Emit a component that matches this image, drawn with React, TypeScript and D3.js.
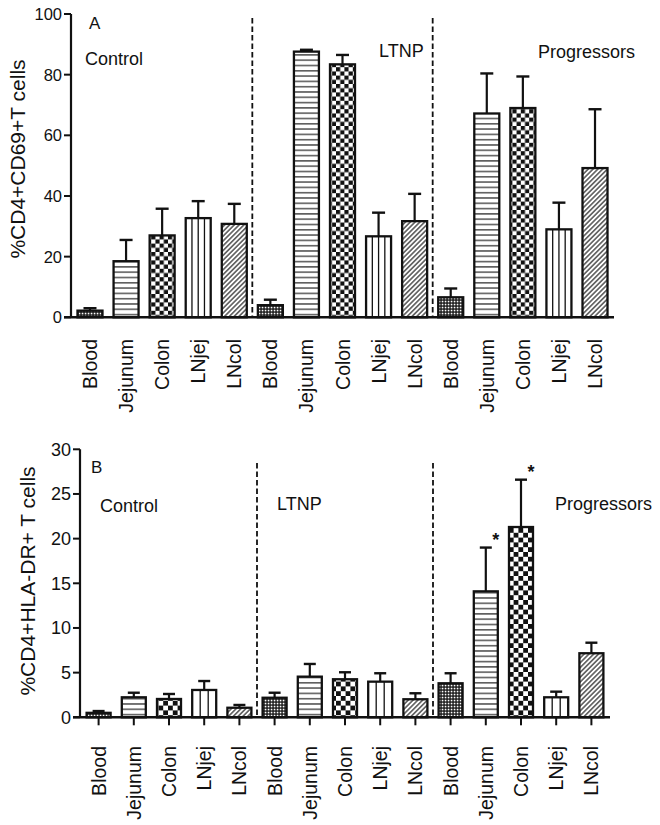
import React from "react";
import * as d3 from "d3";

// ---------- data ----------
const tissues = ["Blood", "Jejunum", "Colon", "LNjej", "LNcol"];
const groups = ["Control", "LTNP", "Progressors"];
// Panel A: %CD4+CD69+ T cells (mean, mean+SEM)
const cd69Mean = [2.2, 18.5, 27.0, 32.7, 30.8, 4.0, 87.6, 83.4, 26.7, 31.7, 6.6, 67.2, 69.0, 29.0, 49.2];
const cd69Upper = [3.0, 25.5, 35.8, 38.3, 37.4, 5.8, 88.2, 86.5, 34.5, 40.7, 9.5, 80.4, 79.4, 37.8, 68.6];
const cd69Ticks = [0, 20, 40, 60, 80, 100];
// Panel B: %CD4+HLA-DR+ T cells (mean, mean+SEM)
const hlaMean = [0.5, 2.24, 2.05, 3.06, 1.07, 2.19, 4.55, 4.26, 3.99, 2.02, 3.81, 14.1, 21.3, 2.24, 7.17];
const hlaUpper = [0.7, 2.75, 2.61, 4.06, 1.38, 2.75, 5.97, 5.04, 4.93, 2.69, 4.93, 19.0, 26.6, 2.87, 8.35];
const hlaTicks = [0, 5, 10, 15, 20, 25, 30];
const hlaSignificant = [false, false, false, false, false, false, false, false, false, false, false, true, true, false, false];

const FONT = "'Liberation Sans', Arial, Helvetica, sans-serif";

type PanelProps = {
  id: string;
  letter: string;
  mean: number[];
  upper: number[];
  ticks: number[];
  yMax: number;
  title: string;
  sig?: boolean[];
  axisX: number;
  axisEnd: number;
  y0: number;
  yTop: number;
  padInner: number;
  padOuter: number;
  capHalf: number;
  xTicks: boolean;
  labelTop: number;
  titleX: number;
  titleY: number;
  letterPos: [number, number];
  groupPos: [number, number][];
  dashTop: number;
  tickFont: number;
  vStripes: number;
  checkSize: number;
};

function Panel(p: PanelProps) {
  const n = p.mean.length;
  const idx = d3.range(n);
  const x = d3
    .scaleBand<number>()
    .domain(idx)
    .range([p.axisX, p.axisEnd])
    .paddingInner(p.padInner)
    .paddingOuter(p.padOuter);
  const y = d3.scaleLinear().domain([0, p.yMax]).range([p.y0, p.yTop]);
  const bw = x.bandwidth();
  const tickLen = 7;
  const cat = (i: number) => tissues[i % tissues.length];
  const fillFor = (i: number) => {
    const t = i % 5;
    return [`url(#${p.id}-blood)`, `url(#${p.id}-hstripe)`, `url(#${p.id}-check)`, "white", `url(#${p.id}-diag)`][t];
  };
  const dividers = [1, 2].map((g) => (x(g * 5 - 1)! + bw + x(g * 5)!) / 2);
  const cs = p.checkSize;
  return (
    <g>
      <defs>
        <pattern id={`${p.id}-blood`} patternUnits="userSpaceOnUse" width={3} height={3}>
          <rect width={3} height={3} fill="#111" />
          <rect x={0.7} y={0.7} width={1.7} height={1.7} fill="#fff" />
        </pattern>
        <pattern id={`${p.id}-hstripe`} patternUnits="userSpaceOnUse" width={10} height={5.3} y={p.y0}>
          <rect width={10} height={5.3} fill="#fff" />
          <line x1={0} x2={10} y1={2.6} y2={2.6} stroke="#111" strokeWidth={1.1} />
        </pattern>
        <pattern id={`${p.id}-check`} patternUnits="userSpaceOnUse" width={cs * 2} height={cs * 2}>
          <rect width={cs * 2} height={cs * 2} fill="#fff" />
          <rect width={cs} height={cs} fill="#111" />
          <rect x={cs} y={cs} width={cs} height={cs} fill="#111" />
        </pattern>
        <pattern
          id={`${p.id}-diag`}
          patternUnits="userSpaceOnUse"
          width={3.4}
          height={10}
          patternTransform="rotate(45)"
        >
          <rect width={3.4} height={10} fill="#fff" />
          <line x1={1.7} x2={1.7} y1={0} y2={10} stroke="#111" strokeWidth={1.1} />
        </pattern>
      </defs>

      {/* bars */}
      {idx.map((i) => {
        const bx = x(i)!;
        const top = y(p.mean[i]);
        const h = p.y0 - top;
        const cx = bx + bw / 2;
        const t = i % 5;
        return (
          <g key={i}>
            <line x1={cx} x2={cx} y1={top} y2={y(p.upper[i])} stroke="#111" strokeWidth={2.2} />
            <line
              x1={cx - p.capHalf}
              x2={cx + p.capHalf}
              y1={y(p.upper[i])}
              y2={y(p.upper[i])}
              stroke="#111"
              strokeWidth={2.4}
            />
            <rect x={bx} y={top} width={bw} height={h} fill={fillFor(i)} />
            {t === 3 &&
              d3.range(1, p.vStripes).map((k) => (
                <line
                  key={k}
                  x1={bx + (bw * k) / p.vStripes}
                  x2={bx + (bw * k) / p.vStripes}
                  y1={top}
                  y2={p.y0}
                  stroke="#111"
                  strokeWidth={1.3}
                />
              ))}
            <rect x={bx} y={top} width={bw} height={h} fill="none" stroke="#111" strokeWidth={2.3} />
            {p.sig && p.sig[i] && (
              <text
                x={cx + 10}
                y={y(p.upper[i]) - 2}
                fontFamily={FONT}
                fontSize={18}
                fontWeight="bold"
                textAnchor="middle"
                fill="#111"
              >
                *
              </text>
            )}
          </g>
        );
      })}

      {/* group dividers */}
      {dividers.map((dx, k) => (
        <line
          key={k}
          x1={dx}
          x2={dx}
          y1={p.dashTop}
          y2={p.y0}
          stroke="#111"
          strokeWidth={1.8}
          strokeDasharray="5.5,3"
        />
      ))}

      {/* y axis */}
      <line x1={p.axisX} x2={p.axisX} y1={y(p.yMax)} y2={p.y0} stroke="#111" strokeWidth={2.2} />
      {p.ticks.map((t) => (
        <g key={t}>
          <line x1={p.axisX - tickLen} x2={p.axisX} y1={y(t)} y2={y(t)} stroke="#111" strokeWidth={2} />
          <text
            x={p.axisX - tickLen - 2}
            y={y(t)}
            dy="0.36em"
            textAnchor="end"
            fontFamily={FONT}
            fontSize={p.tickFont}
            fill="#111"
          >
            {t}
          </text>
        </g>
      ))}
      {/* x axis */}
      <line x1={p.axisX - tickLen} x2={p.axisEnd} y1={p.y0} y2={p.y0} stroke="#111" strokeWidth={2.4} />
      {p.xTicks &&
        idx.map((i) => (
          <line
            key={i}
            x1={x(i)! + bw / 2}
            x2={x(i)! + bw / 2}
            y1={p.y0}
            y2={p.y0 + 8}
            stroke="#111"
            strokeWidth={2}
          />
        ))}
      {idx.map((i) => {
        const cx = x(i)! + bw / 2 + 7;
        return (
          <text
            key={i}
            transform={`translate(${cx},${p.labelTop}) rotate(-90)`}
            textAnchor="end"
            fontFamily={FONT}
            fontSize={19.5}
            fill="#111"
          >
            {cat(i)}
          </text>
        );
      })}

      {/* y title */}
      <text
        transform={`translate(${p.titleX},${p.titleY}) rotate(-90)`}
        textAnchor="middle"
        fontFamily={FONT}
        fontSize={21}
        fill="#111"
      >
        {p.title}
      </text>

      {/* panel letter & group labels */}
      <text x={p.letterPos[0]} y={p.letterPos[1]} fontFamily={FONT} fontSize={17} fill="#111">
        {p.letter}
      </text>
      {groups.map((g, k) => (
        <text key={g} x={p.groupPos[k][0]} y={p.groupPos[k][1]} fontFamily={FONT} fontSize={18} fill="#111">
          {g}
        </text>
      ))}
    </g>
  );
}

export default function App() {
  return (
    <svg
      width={660}
      height={825}
      viewBox="0 0 660 825"
      style={{ position: "absolute", left: 0, top: 0, background: "#fff" }}
    >
      <rect width={660} height={825} fill="#fff" />
      <Panel
        id="a"
        letter="A"
        mean={cd69Mean}
        upper={cd69Upper}
        ticks={cd69Ticks}
        yMax={100}
        title="%CD4+CD69+T cells"
        axisX={71}
        axisEnd={614}
        y0={317.3}
        yTop={14}
        padInner={0.307}
        padOuter={0.18}
        capHalf={6.5}
        xTicks={false}
        labelTop={339}
        titleX={25}
        titleY={159}
        letterPos={[89, 28.5]}
        groupPos={[
          [85, 64.5],
          [379, 56.5],
          [538, 57.5],
        ]}
        dashTop={18}
        tickFont={16.5}
        vStripes={4}
        checkSize={4.2}
      />
      <Panel
        id="b"
        letter="B"
        mean={hlaMean}
        upper={hlaUpper}
        ticks={hlaTicks}
        yMax={30}
        title="%CD4+HLA-DR+ T cells"
        sig={hlaSignificant}
        axisX={80}
        axisEnd={610}
        y0={717.3}
        yTop={449.3}
        padInner={0.318}
        padOuter={0.1875}
        capHalf={6}
        xTicks={true}
        labelTop={746}
        titleX={35}
        titleY={581}
        letterPos={[91, 473]}
        groupPos={[
          [100, 511.5],
          [277, 510],
          [555, 510],
        ]}
        dashTop={463}
        tickFont={18}
        vStripes={3}
        checkSize={4.8}
      />
    </svg>
  );
}
